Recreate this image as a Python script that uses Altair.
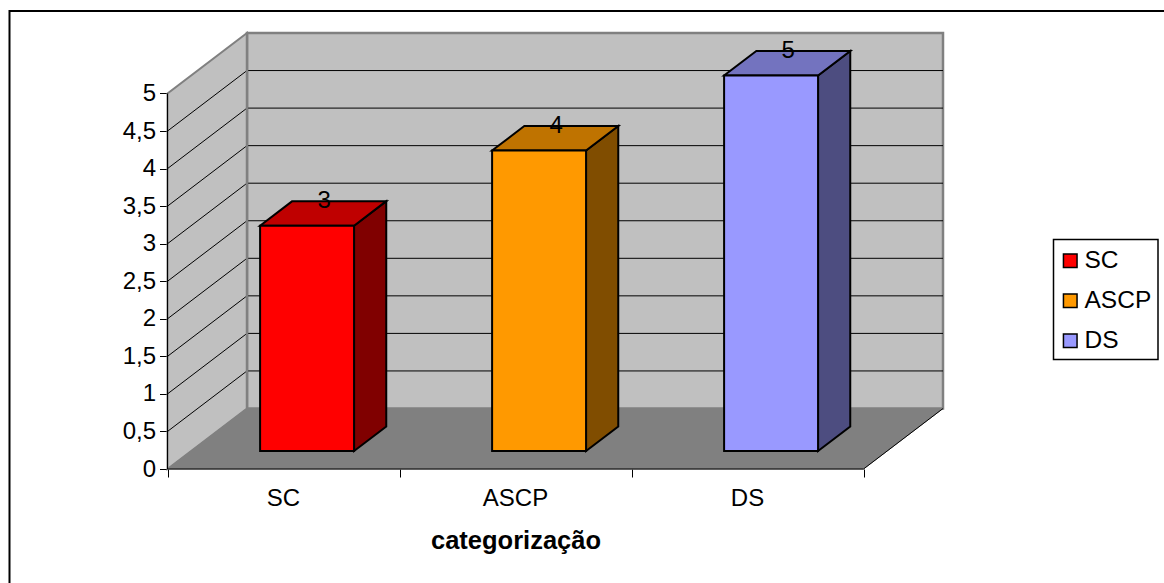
import altair as alt
import pandas as pd

# Series shown by the chart
categories = ["SC", "ASCP", "DS"]
values = [3, 4, 5]
front_colors = ["#FF0000", "#FF9900", "#9999FF"]
top_colors = ["#BF0000", "#BF7300", "#7373BF"]
side_colors = ["#800000", "#804D00", "#4D4D80"]
y_ticks = [0, 0.5, 1, 1.5, 2, 2.5, 3, 3.5, 4, 4.5, 5]
x_ticks = [0, 1, 2, 3]

W, H = 1164, 583
X0, Y0 = 167.5, 469.0      # pixel position of the front-left floor corner
UX, UY = 232.0, 75.1       # pixels per category and per value unit
DX, DY = 79.5 / UX, 60.5 / UY  # full-depth shift, in data units

BAR_GAP, BAR_W = 0.297, 0.405
BAR_D0, BAR_D = 0.298, 0.405  # where the bar starts in the depth and how deep it is
FONT = "Liberation Sans"
FS = 24

x_scale = alt.Scale(domain=[-X0 / UX, (W - X0) / UX], nice=False, zero=False)
y_scale = alt.Scale(domain=[(Y0 - H) / UY, Y0 / UY], nice=False, zero=False)

x_axis = alt.Axis(
    title="categorização",
    values=x_ticks, labels=False, grid=False, domain=False, offset=Y0 - H,
    tickColor="black", tickSize=8, tickWidth=1,
    titleFont=FONT, titleFontSize=25.5, titleFontWeight="bold", titleColor="black",
    titleX=515.5, titleY=71, titleAnchor="middle", titleBaseline="middle", titleAlign="center",
)
y_axis = alt.Axis(
    title=None,
    values=y_ticks, grid=False, domain=False, offset=-X0,
    labelExpr="replace(format(datum.value, '.1~f'), '.', ',')",
    labelFont=FONT, labelFontSize=FS, labelColor="black", labelPadding=4,
    tickColor="black", tickSize=8, tickWidth=1,
)


def px(u, d=0.0):
    return u + d * DX


def py(v, d=0.0):
    return v + d * DY


def X(field="x"):
    return alt.X(f"{field}:Q", scale=x_scale, axis=x_axis)


def Y(field="y"):
    return alt.Y(f"{field}:Q", scale=y_scale, axis=y_axis)


def flat_face(depth0, depth1, u0, u1, v, color, stroke, sw=1.0):
    """Horizontal parallelogram lying at height v (floor, bar tops)."""
    df = pd.DataFrame({
        "y": [py(v, depth0), py(v, depth1)],
        "x": [px(u0, depth0), px(u0, depth1)],
        "x2": [px(u1, depth0), px(u1, depth1)],
    })
    return alt.Chart(df).mark_area(orient="horizontal", color=color, stroke=stroke, strokeWidth=sw).encode(
        y=Y(), x=X(), x2="x2:Q"
    )


def side_face(u, depth0, depth1, v0, v1, color, stroke, sw=1.0):
    """Parallelogram running back in depth at category position u (left wall, bar sides)."""
    df = pd.DataFrame({
        "x": [px(u, depth0), px(u, depth1)],
        "y": [py(v0, depth0), py(v0, depth1)],
        "y2": [py(v1, depth0), py(v1, depth1)],
    })
    return alt.Chart(df).mark_area(orient="vertical", color=color, stroke=stroke, strokeWidth=sw).encode(
        x=X(), y=Y(), y2="y2:Q"
    )


one_row = pd.DataFrame({"x": [0], "y": [0]})
layers = []

# Walls and floor
wall = pd.DataFrame({"x": [px(0, 1)], "x2": [px(3, 1)], "y": [py(0, 1)], "y2": [py(5, 1)]})
layers.append(alt.Chart(wall).mark_rect(color="#C0C0C0", stroke="#808080", strokeWidth=2.5).encode(
    x=X(), x2="x2:Q", y=Y(), y2="y2:Q"))
layers.append(side_face(0, 0, 1, 0, 5, "#C0C0C0", "#808080", 2))
layers.append(flat_face(0, 1, 0, 3, 0, "#808080", "#808080", 1))

# Grid lines wrap from the left wall onto the back wall
grid_rows = []
for t in y_ticks[1:-1]:
    grid_rows += [
        {"t": t, "o": 0, "x": px(0, 0), "y": py(t, 0)},
        {"t": t, "o": 1, "x": px(0, 1), "y": py(t, 1)},
        {"t": t, "o": 2, "x": px(3, 1), "y": py(t, 1)},
    ]
layers.append(alt.Chart(pd.DataFrame(grid_rows)).mark_line(color="black", strokeWidth=1).encode(
    x=X(), y=Y(), detail="t:N", order="o:Q"))

# Re-draw the back corner over the grid
corner = pd.DataFrame({"x": [px(0, 1)], "y": [py(0, 1)], "y2": [py(5, 1)]})
layers.append(alt.Chart(corner).mark_rule(color="#808080", strokeWidth=2.5).encode(x=X(), y=Y(), y2="y2:Q"))

# Floor edges and value axis line
edge_rows = [
    {"k": "value", "o": 0, "x": px(0), "y": 0},
    {"k": "value", "o": 1, "x": px(0), "y": 5},
    {"k": "front", "o": 0, "x": px(0), "y": 0},
    {"k": "front", "o": 1, "x": px(3), "y": 0},
    {"k": "front", "o": 2, "x": px(3, 1), "y": py(0, 1)},
]
layers.append(alt.Chart(pd.DataFrame(edge_rows)).mark_line(color="black", strokeWidth=1).encode(
    x=X(), y=Y(), detail="k:N", order="o:Q"))

# Bars: side and top faces, then the front with the legend attached
front_rows = []
for i, (cat, val) in enumerate(zip(categories, values)):
    u0 = i + BAR_GAP
    u1 = u0 + BAR_W
    d0, d1 = BAR_D0, BAR_D0 + BAR_D
    layers.append(side_face(u1, d0, d1, 0, val, side_colors[i], "black", 2))
    layers.append(flat_face(d0, d1, u0, u1, val, top_colors[i], "black", 2))
    front_rows.append({"cat": cat, "x": px(u0, d0), "x2": px(u1, d0), "y": py(0, d0), "y2": py(val, d0)})

# Legend box sits under the legend's symbols and labels
layers.append(alt.Chart(one_row).mark_rect(fill="white", stroke="black", strokeWidth=1.5).encode(
    x=alt.value(1053.5), x2=alt.value(1158), y=alt.value(239.5), y2=alt.value(359.5)))

legend = alt.Legend(
    title=None,
    orient="none",
    legendX=1058,
    legendY=248.5,
    symbolType="square",
    symbolSize=185,
    symbolStrokeColor="black",
    symbolStrokeWidth=1.5,
    symbolOpacity=1,
    labelFont=FONT,
    labelFontSize=24.5,
    labelColor="black",
    labelLimit=200,
    labelOffset=2,
    rowPadding=15,
    padding=0,
    offset=0,
)
layers.append(alt.Chart(pd.DataFrame(front_rows)).mark_rect(stroke="black", strokeWidth=2, opacity=1).encode(
    x=X(), x2="x2:Q", y=Y(), y2="y2:Q",
    color=alt.Color("cat:N", scale=alt.Scale(domain=categories, range=front_colors), legend=legend),
))

# Value labels sit at the rear edge of each bar top
label_df = pd.DataFrame({
    "label": [str(v) for v in values],
    "x": [px(i + BAR_GAP + BAR_W / 2, BAR_D0 + BAR_D / 2) for i in range(3)],
    "y": [py(v, BAR_D0 + BAR_D) for v in values],
})
layers.append(alt.Chart(label_df).mark_text(font=FONT, fontSize=FS, color="black", baseline="middle", align="center", dx=1).encode(
    x=X(), y=Y(), text="label:N"))

# Category names under the axis
cat_df = pd.DataFrame({"cat": categories, "x": [i + 0.5 for i in range(3)], "y": [0] * 3})
layers.append(alt.Chart(cat_df).mark_text(font=FONT, fontSize=FS, color="black", baseline="middle", align="center", dy=30).encode(
    x=X(), y=Y(), text="cat:N"))

# Outer border, open towards the right and bottom page edges
frame_top = alt.Chart(one_row).mark_rule(color="black", strokeWidth=2).encode(
    x=alt.value(9), x2=alt.value(W), y=alt.value(11))
frame_left = alt.Chart(one_row).mark_rule(color="black", strokeWidth=2).encode(
    x=alt.value(9.5), y=alt.value(10), y2=alt.value(H))
layers += [frame_top, frame_left]

chart = (
    alt.layer(*layers)
    .properties(width=W, height=H, padding=0, autosize=alt.AutoSizeParams(type="none"), background="white")
    .configure_view(stroke=None)
)

chart.save("out.html", embed_options={"renderer": "svg", "actions": False})
